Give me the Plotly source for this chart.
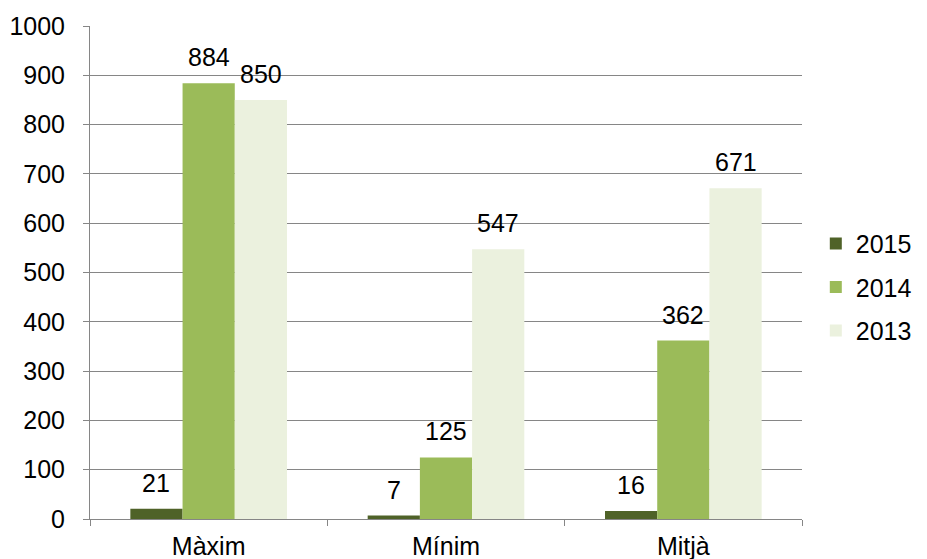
import plotly.graph_objects as go

categories = ["Màxim", "Mínim", "Mitjà"]
years = ["2015", "2014", "2013"]
values_2015 = [21, 7, 16]
values_2014 = [884, 125, 362]
values_2013 = [850, 547, 671]
colors = ["#4F6228", "#9BBB59", "#EBF1DE"]

FONT = "Arial, Liberation Sans, sans-serif"
# page body has an 8px margin, so the figure is a little smaller than the window
W, H = 919, 551
M = dict(l=82, r=125, t=18, b=40)
BARGAP = 0.34

fig = go.Figure()
series = [values_2015, values_2014, values_2013]
for i, (yr, vals, col) in enumerate(zip(years, series, colors)):
    fig.add_trace(go.Bar(
        x=categories, y=vals, name=yr, marker=dict(color=col, line=dict(width=0)),
        legendgroup=yr,
    ))

# value labels above the bars
cat_px = (W - M["l"] - M["r"]) / len(categories)
bar_px = cat_px * (1 - BARGAP) / len(years)
for i, vals in enumerate(series):
    for c, v in zip(categories, vals):
        fig.add_annotation(
            x=c, y=v, text=str(v), showarrow=False, yanchor="bottom",
            xshift=(i - 1) * bar_px, yshift=10,
            font=dict(size=25, color="#000000", family=FONT),
        )

fig.update_layout(
    width=W, height=H, margin=M,
    paper_bgcolor="white", plot_bgcolor="white",
    barmode="group", bargap=BARGAP, bargroupgap=0,
    font=dict(family=FONT, size=25, color="#000000"),
    showlegend=True,
    legend=dict(xref="container", x=0.879, xanchor="left", y=0.47, yanchor="middle",
                font=dict(size=25), tracegroupgap=8, itemwidth=30),
    xaxis=dict(showline=True, linecolor="#868686", linewidth=1, automargin=False,
               ticks="outside", tickson="boundaries", ticklen=6, tickcolor="#868686",
               ticklabelstandoff=5, showgrid=False),
    yaxis=dict(range=[0, 1000], dtick=100, showline=True, linecolor="#868686",
               linewidth=1, ticks="outside", ticklen=6, tickcolor="#868686",
               gridcolor="#868686", gridwidth=1, zeroline=False, automargin=False,
               ticklabelstandoff=13),
)

fig.write_html("out.html")
